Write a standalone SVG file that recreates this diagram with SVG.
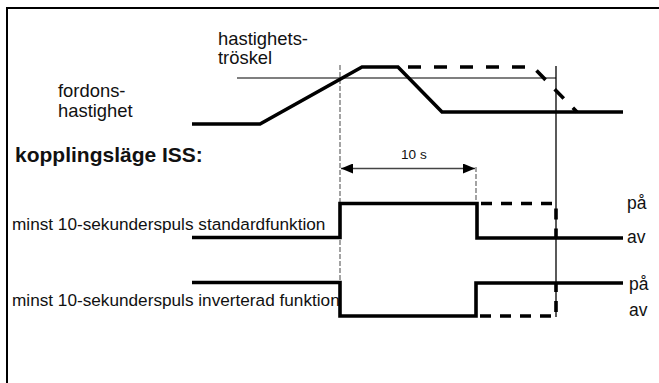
<svg xmlns="http://www.w3.org/2000/svg" width="659" height="383" viewBox="0 0 659 383">
<style>
text{font-family:"Liberation Sans",Arial,sans-serif;fill:#111}
.lbl{font-size:18.4px}
.sig{font-size:17.2px}
.pa{font-size:17.5px}
.thick{fill:none;stroke:#000;stroke-width:3.6;stroke-linejoin:miter}
.dash{fill:none;stroke:#000;stroke-width:3.6;stroke-dasharray:11 9}
.sdash{fill:none;stroke:#000;stroke-width:3.6;stroke-dasharray:13 13}
.guide{fill:none;stroke:#666;stroke-width:1.2;stroke-dasharray:5 2}
</style>
<defs>
<marker id="ah" viewBox="0 0 12 10" refX="12" refY="5" markerWidth="12" markerHeight="10" markerUnits="userSpaceOnUse" orient="auto-start-reverse">
<path d="M0,0 L12,5 L0,10 Z" fill="#000"/>
</marker>
</defs>
<rect width="659" height="383" fill="#fff"/>
<g id="frame">
<line x1="7" y1="8" x2="659" y2="8" stroke="#000" stroke-width="2"/>
<line x1="7" y1="7" x2="7" y2="383" stroke="#000" stroke-width="2"/>
</g>
<g id="labels">
<text class="lbl" x="218" y="45">hastighets-</text>
<text class="lbl" x="218" y="64">tröskel</text>
<text class="lbl" x="58" y="97">fordons-</text>
<text class="lbl" x="58" y="117">hastighet</text>
<text x="15" y="162" font-size="21" font-weight="bold">kopplingsläge ISS:</text>
<text class="sig" x="12" y="230">minst 10-sekunderspuls standardfunktion</text>
<text class="sig" x="12" y="306">minst 10-sekunderspuls inverterad funktion</text>
<text class="pa" x="627" y="209">på</text>
<text class="pa" x="627" y="243">av</text>
<text class="pa" x="629" y="290">på</text>
<text class="pa" x="629" y="316">av</text>
</g>
<g id="connectors">
<line id="threshold" x1="237" y1="78" x2="556" y2="78" stroke="#555" stroke-width="1.4"/>
<line id="guide-left" class="guide" x1="340" y1="65" x2="340" y2="282"/>
<line id="guide-mid" class="guide" x1="476" y1="167" x2="476" y2="203"/>
<line id="cutoff" x1="556" y1="66" x2="556" y2="317" stroke="#000" stroke-width="1.3"/>
<line id="dim" x1="341" y1="168.5" x2="475" y2="168.5" stroke="#444" stroke-width="1.3" marker-start="url(#ah)" marker-end="url(#ah)"/>
<text x="401" y="159" font-size="13.6">10 s</text>
</g>
<g id="speed">
<polyline class="thick" points="192,124 260,124 362,67 398,67 442,112 623,112"/>
<polyline class="sdash" points="398,67 533,67 577,112" stroke-dashoffset="-10"/>
</g>
<g id="standard">
<polyline class="thick" points="192,237.5 340,237.5 340,203.5 477,203.5 477,238 623,238"/>
<polyline class="dash" points="477,203.5 556,203.5 556,238" stroke-dashoffset="-4"/>
</g>
<g id="inverted">
<polyline class="thick" points="192,282.5 340,282.5 340,316 476,316 476,283 623,283"/>
<polyline class="dash" points="476,316 556,316 556,283" stroke-dashoffset="-4"/>
</g>
</svg>
